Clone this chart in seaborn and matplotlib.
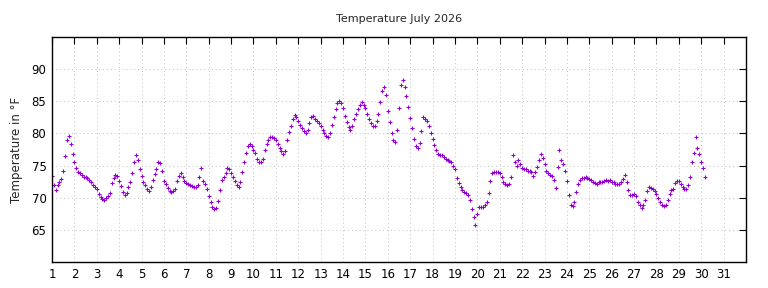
import numpy as np
import pandas as pd
import matplotlib
matplotlib.use("Agg")
import matplotlib.pyplot as plt
import seaborn as sns

# readings every 2 hours starting July 1, 00:00 (deg F)
week1 = [
    73.4, 72.0, 71.2, 72.0, 72.5, 72.9, 74.2, 76.5, 79.0, 79.6, 78.3, 76.8,  # 1
    75.6, 74.6, 74.0, 73.8, 73.5, 73.3, 73.2, 73.0, 72.7, 72.5, 72.0, 71.7,  # 2
    71.3, 70.6, 70.1, 69.8, 69.7, 69.9, 70.2, 70.8, 72.3, 73.0, 73.6, 73.4,  # 3
    72.6, 71.8, 70.9, 70.5, 70.8, 71.6, 72.5, 73.8, 75.6, 76.6, 75.8, 74.4,  # 4
    73.4, 72.5, 71.9, 71.4, 71.1, 71.7, 72.8, 73.7, 74.5, 75.6, 75.4, 74.2,  # 5
    72.6, 72.2, 71.5, 71.0, 70.9, 71.1, 71.4, 72.6, 73.4, 73.9, 73.3, 72.6,  # 6
    72.3, 72.1, 71.9, 71.8, 71.7, 71.7, 71.9, 73.2, 74.6, 72.6, 72.2, 71.3,  # 7
]
week2 = [
    70.2, 69.3, 68.6, 68.2, 68.4, 69.5, 71.2, 72.7, 73.3, 73.9, 74.6, 74.4,  # 8
    73.9, 73.2, 72.6, 72.0, 71.6, 72.4, 74.0, 75.5, 76.9, 78.0, 78.4, 78.0,  # 9
    77.5, 76.9, 76.1, 75.6, 75.5, 76.0, 77.4, 78.3, 78.9, 79.4, 79.5, 79.3,  # 10
    79.0, 78.3, 77.7, 77.2, 76.8, 77.2, 79.0, 80.2, 81.1, 82.2, 82.9, 82.6,  # 11
    82.0, 81.3, 80.8, 80.4, 80.0, 80.6, 81.6, 82.6, 82.7, 82.2, 82.0, 81.6,  # 12
    81.1, 80.6, 80.0, 79.6, 79.4, 80.0, 81.3, 82.5, 83.8, 84.7, 85.1, 84.7,  # 13
    84.0, 82.7, 81.8, 81.0, 80.5, 81.2, 82.2, 83.0, 83.8, 84.5, 84.9, 84.5,  # 14
]
week3 = [
    84.0, 83.1, 82.3, 81.6, 81.2, 81.1, 82.0, 83.1, 84.9, 86.6, 87.3, 86.0,  # 15
    83.5, 81.8, 80.0, 78.9, 78.6, 80.5, 84.0, 87.5, 88.3, 87.2, 85.9, 84.1,  # 16
    82.4, 80.8, 79.2, 78.0, 77.7, 78.5, 80.4, 82.5, 82.3, 82.0, 81.2, 80.0,  # 17
    79.1, 78.2, 77.4, 76.8, 76.7, 76.6, 76.4, 76.1, 75.9, 75.7, 75.5, 75.0,  # 18
    74.4, 73.0, 72.3, 71.7, 71.2, 70.9, 70.7, 70.4, 69.6, 68.2, 67.0, 65.8,  # 19
    67.5, 68.5, 68.6, 68.6, 68.8, 69.4, 70.8, 72.6, 73.9, 74.0, 74.0, 74.0,  # 20
    73.8, 73.2, 72.5, 72.1, 71.9, 72.2, 73.3, 76.6, 75.6, 74.9, 75.9, 75.2,  # 21
]
week4 = [
    74.7, 74.5, 74.4, 74.2, 74.1, 74.0, 73.4, 74.0, 74.8, 75.8, 76.8, 76.2,  # 22
    75.2, 74.1, 73.8, 73.6, 73.4, 72.8, 71.5, 74.8, 77.4, 75.8, 75.2, 74.2,  # 23
    72.6, 70.4, 68.9, 68.7, 69.3, 70.9, 72.1, 72.7, 73.0, 73.1, 73.3, 73.1,  # 24
    72.9, 72.7, 72.5, 72.3, 72.2, 72.4, 72.5, 72.5, 72.6, 72.7, 72.6, 72.7,  # 25
    72.5, 72.4, 72.2, 72.1, 72.1, 72.4, 72.9, 73.6, 72.5, 71.2, 70.4, 70.5,  # 26
    70.6, 70.2, 69.4, 68.8, 68.4, 68.9, 69.6, 71.0, 71.6, 71.5, 71.4, 71.1,  # 27
    70.6, 70.0, 69.4, 68.9, 68.7, 68.8, 69.6, 70.6, 71.2, 71.3, 72.3, 72.6,  # 28
]
week5 = [
    72.6, 72.1, 71.7, 71.4, 71.4, 71.9, 73.2, 75.6, 77.0, 79.4, 77.8, 76.8,  # 29
    75.6, 74.6, 73.2,                                                        # 30
]

temps = week1 + week2 + week3 + week4 + week5
step_hours = 2
day = 1 + np.arange(len(temps)) * step_hours / 24.0
df = pd.DataFrame({"day": day, "temp": temps})

sns.set_style("white")
plt.rcParams["font.family"] = ["DejaVu Sans"]

fig = plt.figure(figsize=(7.68, 2.88), dpi=100)
ax = fig.add_axes([52 / 768, 26 / 288, 694 / 768, 225 / 288])

purple = "#9400D3"
sns.scatterplot(data=df, x="day", y="temp", ax=ax, marker="+", color=purple,
                edgecolor=purple, s=8, linewidth=0.8)

ax.set_xlim(1, 32)
ax.set_ylim(60, 95)
ax.set_xticks(range(1, 32))
ax.set_yticks(range(65, 95, 5))
ax.grid(True, color="#c0c0c0", linestyle=(0, (1, 3)), linewidth=0.7)
ax.tick_params(axis="both", direction="in", length=5, width=0.8, labelsize=8.5,
               top=True, right=True, colors="black", pad=4)
for spine in ax.spines.values():
    spine.set_visible(True)
    spine.set_color("black")
    spine.set_linewidth(1.0)

ax.set_title("Temperature July 2026", fontsize=8, pad=11)
ax.set_xlabel("")
ax.set_ylabel("Temperature in °F", fontsize=8.5, labelpad=6)

fig.savefig("out.png", dpi=100)
plt.close(fig)
